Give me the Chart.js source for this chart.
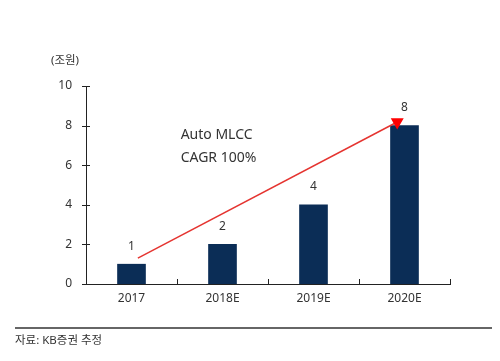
<!DOCTYPE html>
<html>
<head>
<meta charset="utf-8">
<script src="https://cdn.jsdelivr.net/npm/chart.js@4"></script>
<style>
  html, body { margin: 0; padding: 0; background: #fff; }
  #wrap { width: 500px; height: 361px; position: relative; }
</style>
</head>
<body>
<div id="wrap"><canvas id="mlccChart" width="500" height="361"></canvas></div>
<script>
const categories = ["2017", "2018E", "2019E", "2020E"];
const values = [1, 2, 4, 8];
const yTicks = [0, 2, 4, 6, 8, 10];
// trend arrow, in (category index, value) units
const trendX = [0.07, 2.92];
const trendY = [1.31, 8.18];
const unitLabel = "(조원)";
const noteLines = ["Auto MLCC", "CAGR 100%"];
const sourceText = "자료: KB증권 추정";

const fontFamily = "'Noto Sans', 'Noto Sans CJK KR', sans-serif";
const textColor = "#333333";

const extrasPlugin = {
  id: "extras",
  afterDraw: function(chart) {
    const ctx = chart.ctx;
    const x = chart.scales.x;
    const y = chart.scales.y;
    const x2 = chart.scales.x2;
    ctx.save();
    ctx.strokeStyle = "#222";
    ctx.lineWidth = 1;
    // y ticks crossing the axis
    yTicks.forEach(function(v) {
      const py = Math.round(y.getPixelForValue(v)) + 0.5;
      ctx.beginPath();
      ctx.moveTo(x.left - 4, py);
      ctx.lineTo(x.left + 4, py);
      ctx.stroke();
    });
    // x ticks at category boundaries, pointing up
    for (let i = 1; i <= categories.length; i++) {
      const px = Math.round(x2.getPixelForValue(i - 0.5)) + 0.5;
      ctx.beginPath();
      ctx.moveTo(px, y.bottom);
      ctx.lineTo(px, y.bottom - 5);
      ctx.stroke();
    }
    // value labels above bars
    ctx.fillStyle = textColor;
    ctx.font = "12px " + fontFamily;
    ctx.textAlign = "center";
    ctx.textBaseline = "middle";
    const meta = chart.getDatasetMeta(0);
    meta.data.forEach(function(bar, i) {
      ctx.fillText(String(values[i]), bar.x, bar.y - 18);
    });
    // note text
    ctx.font = "14px " + fontFamily;
    ctx.textAlign = "left";
    ctx.fillText(noteLines[0], x2.getPixelForValue(0.54), y.getPixelForValue(7.5));
    ctx.fillText(noteLines[1], x2.getPixelForValue(0.54), y.getPixelForValue(6.36));
    // unit label
    ctx.font = "11.5px " + fontFamily;
    ctx.textAlign = "center";
    ctx.fillText(unitLabel, 65, 61);
    // source line and text
    ctx.strokeStyle = "#333";
    ctx.lineWidth = 1.5;
    ctx.beginPath();
    ctx.moveTo(15, 328);
    ctx.lineTo(492, 328);
    ctx.stroke();
    ctx.textAlign = "left";
    ctx.fillText(sourceText, 15, 341);
    ctx.restore();
  }
};

const context = document.getElementById("mlccChart").getContext("2d");
const chart = new Chart(context, {
  data: {
    labels: categories,
    datasets: [{
      type: "bar",
      label: "Auto MLCC",
      data: values,
      backgroundColor: "#0b2d56",
      barThickness: 28,
      grouped: false,
      xAxisID: "x",
      yAxisID: "y",
      order: 2
    }, {
      type: "line",
      label: "trend",
      data: trendX.map(function(v, i) { return { x: v, y: trendY[i] }; }),
      borderColor: "#e53430",
      borderWidth: 1.5,
      pointStyle: "triangle",
      rotation: 180,
      pointRadius: [0, 6],
      pointBackgroundColor: "#ff0000",
      pointBorderColor: "#ff0000",
      xAxisID: "x2",
      yAxisID: "y",
      order: 1
    }]
  },
  options: {
    responsive: false,
    animation: false,
    layout: { padding: { left: 0, right: 50, top: 86, bottom: 0 } },
    plugins: {
      legend: { display: false },
      tooltip: { enabled: false }
    },
    scales: {
      x: {
        type: "category",
        offset: true,
        grid: { display: false, drawTicks: false },
        border: { color: "#222", width: 1 },
        ticks: { color: textColor, font: { size: 12, family: fontFamily }, padding: 7 },
        afterFit: function(scale) { scale.height = 77; }
      },
      x2: {
        type: "linear",
        display: false,
        min: -0.5,
        max: 3.5
      },
      y: {
        min: 0,
        max: 10,
        grid: { display: false, drawTicks: false },
        border: { color: "#222", width: 1 },
        ticks: { stepSize: 2, color: textColor, font: { size: 12, family: fontFamily }, padding: 14 },
        afterFit: function(scale) { scale.width = 86; }
      }
    }
  },
  plugins: [extrasPlugin]
});
</script>
</body>
</html>
